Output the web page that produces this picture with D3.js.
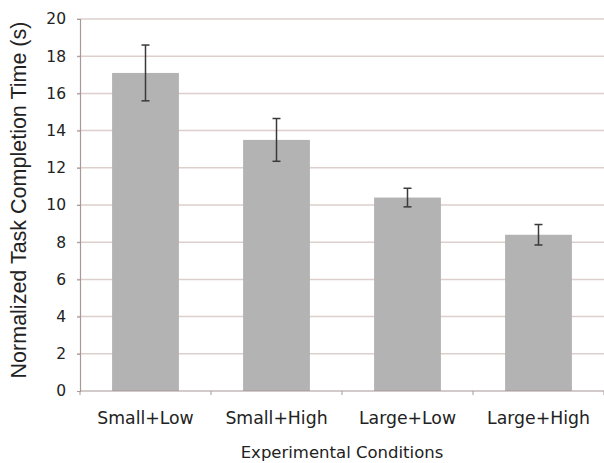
<!DOCTYPE html>
<html><head><meta charset="utf-8">
<script src="https://cdn.jsdelivr.net/npm/d3@7"></script>
<style>body{margin:0;background:#fff}svg{display:block}</style>
</head><body>
<svg id="c" width="604" height="463"></svg>
<script>
const categories = ["Small+Low", "Small+High", "Large+Low", "Large+High"];
const means = [17.1, 13.5, 10.4, 8.4];
const errors = [1.5, 1.15, 0.5, 0.55];
const yTicks = [0, 2, 4, 6, 8, 10, 12, 14, 16, 18, 20];
const yTitle = "Normalized Task Completion Time (s)";
const xTitle = "Experimental Conditions";

const svg = d3.select("#c");
const m = {left: 80, right: 0, top: 19, bottom: 72};
const W = 604, H = 463;
const x = d3.scaleBand().domain(categories).range([m.left, W - m.right]).paddingInner(0.49).paddingOuter(0.245);
const y = d3.scaleLinear().domain([0, 20]).range([H - m.bottom, m.top]);

// gridlines
svg.append("g").selectAll("line").data(yTicks.filter(d => d > 0)).join("line")
  .attr("x1", m.left - 3).attr("x2", W).attr("y1", d => y(d)).attr("y2", d => y(d))
  .attr("stroke", "#dccfcc").attr("stroke-width", 1.5);

// y axis
const ya = svg.append("g").attr("transform", `translate(${m.left},0)`)
  .call(d3.axisLeft(y).tickValues(yTicks).tickSize(3).tickPadding(11));
ya.select(".domain").attr("stroke", "#a89898").attr("stroke-width", 1.2);
ya.selectAll(".tick line").attr("stroke", "#a89898");
ya.selectAll("text").attr("font-family", "DejaVu Sans, Verdana, sans-serif").attr("font-size", 15.5).attr("fill", "#222");

// bars
svg.append("g").selectAll("rect").data(categories).join("rect")
  .attr("x", d => x(d)).attr("width", x.bandwidth())
  .attr("y", (d, i) => y(means[i])).attr("height", (d, i) => y(0) - y(means[i]))
  .attr("fill", "#b3b3b3");

// x axis
const xBounds = d3.scaleLinear().domain([0, categories.length]).range([m.left, W - m.right]);
const xg = svg.append("g");
xg.append("line").attr("x1", m.left).attr("x2", W).attr("y1", y(0)).attr("y2", y(0))
  .attr("stroke", "#a89898").attr("stroke-width", 1.2);
xg.selectAll(".tk").data(d3.range(categories.length + 1)).join("line").attr("class", "tk")
  .attr("x1", d => xBounds(d)).attr("x2", d => xBounds(d)).attr("y1", y(0)).attr("y2", y(0) + 4)
  .attr("stroke", "#a89898");
xg.selectAll("text").data(categories).join("text")
  .attr("x", d => x(d) + x.bandwidth() / 2).attr("y", y(0) + 33)
  .attr("text-anchor", "middle").attr("font-family", "DejaVu Sans, Verdana, sans-serif")
  .attr("font-size", 17.3).attr("fill", "#222").text(d => d);

// error bars
const eb = svg.append("g").attr("stroke", "#3a3a3a").attr("stroke-width", 1.5);
categories.forEach((c, i) => {
  const cx = x(c) + x.bandwidth() / 2;
  eb.append("line").attr("x1", cx).attr("x2", cx).attr("y1", y(means[i] + errors[i])).attr("y2", y(means[i] - errors[i]));
  [means[i] + errors[i], means[i] - errors[i]].forEach(v => {
    eb.append("line").attr("x1", cx - 4).attr("x2", cx + 4).attr("y1", y(v)).attr("y2", y(v));
  });
});

// titles
svg.append("text").attr("transform", `translate(26,200) rotate(-90)`)
  .attr("text-anchor", "middle").attr("font-family", "Liberation Sans, Arial, sans-serif")
  .attr("font-size", 21.5).attr("fill", "#222").text(yTitle);
svg.append("text").attr("x", (m.left + W) / 2).attr("y", 458)
  .attr("text-anchor", "middle").attr("font-family", "DejaVu Sans, Verdana, sans-serif")
  .attr("font-size", 16.5).attr("fill", "#222").text(xTitle);
</script>
</body></html>
